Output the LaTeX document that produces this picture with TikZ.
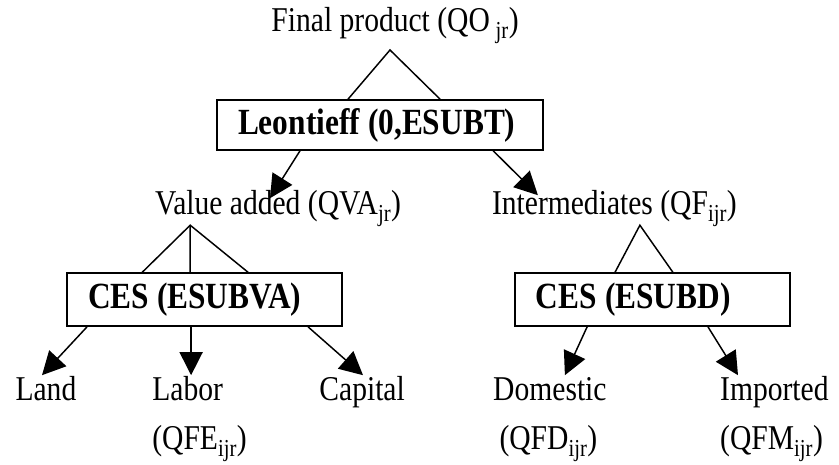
\documentclass[tikz,border=0pt]{standalone}
\usepackage{fontspec}
\setmainfont{Liberation Serif}[FakeStretch=0.85]
\usepackage{tikz}
\usetikzlibrary{arrows.meta,positioning}

\newcommand{\boxfont}{\fontsize{35}{40}\selectfont\bfseries}
\newcommand{\gap}{\hspace{0.22em}}

\begin{document}
\begin{tikzpicture}[
  x=1cm,
  y=1cm,
  box/.style={
    draw=black,
    align=left,
    inner xsep=0.7cm,
    inner ysep=0pt,
    line width=1.4pt,
    font=\boxfont
  },
  lbl/.style={font=\fontsize{33}{38}\selectfont, inner sep=0pt, anchor=base},
  nest/.style={line width=1.4pt},
  flow/.style={-{Triangle[length=22pt, width=22pt]}, line width=1.4pt}
]
\useasboundingbox (0,0) rectangle (27.967,15.467);

% nesting levels
\node[lbl] (final) at (13.17,14.41) {Final product (QO\,\textsubscript{jr})};
\node[box, text width=9.47cm, minimum height=1.67cm] (leon) at (12.67,11.30) {Leontieff\gap(0,ESUBT)};

\node[lbl] (vadd)  at (9.27,8.33)  {Value added (QVA\textsubscript{jr})};
\node[lbl] (inter) at (20.48,8.33) {Intermediates (QF\textsubscript{ijr})};

\node[box, text width=7.77cm, minimum height=1.77cm] (cesva) at (6.82,5.48)  {CES\gap(ESUBVA)};
\node[box, text width=7.77cm, minimum height=1.77cm] (cesd)  at (21.75,5.48) {CES\gap(ESUBD)};

% inputs
\node[lbl] (land)    at (1.53,2.13)  {Land};
\node[lbl, anchor=base west] (labor) at (5.07,2.13) {Labor};
\node[lbl, anchor=base west] (qfe)   at (5.07,0.50) {(QFE\textsubscript{ijr})};
\node[lbl] (capital) at (12.07,2.13) {Capital};
\node[lbl] (domestic) at (18.33,2.13) {Domestic};
\node[lbl] (qfd)      at (18.28,0.50) {(QFD\textsubscript{ijr})};
\node[lbl, anchor=base west] (imported) at (24.00,2.13) {Imported};
\node[lbl, anchor=base west] (qfm)      at (24.00,0.50) {(QFM\textsubscript{ijr})};

% nests
\draw[nest] ([xshift=-1.07cm]leon.north) -- ([shift={(-0.17,-0.61)}]final.base) -- ([xshift=2.00cm]leon.north);
\draw[nest] ([xshift=-2.08cm]cesva.north) -- ([shift={(-2.93,-0.37)}]vadd.base) -- ([xshift=1.45cm]cesva.north);
\draw[nest] ([shift={(-2.93,-0.37)}]vadd.base) -- ([xshift=-0.48cm]cesva.north);
\draw[nest] ([xshift=-1.25cm]cesd.north) -- ([shift={(0.85,-0.37)}]inter.base) -- ([xshift=0.68cm]cesd.north);

% flows
\draw[flow] ([xshift=-2.67cm]leon.south) -- ([shift={(-0.27,0.53)}]vadd.base);
\draw[flow] ([xshift=3.77cm]leon.south) -- ([shift={(-2.55,0.63)}]inter.base);

\draw[flow] ([xshift=-3.92cm]cesva.south) -- ([shift={(-0.13,0.83)}]land.base);
\draw[flow] ([xshift=-0.45cm]cesva.south) -- ([shift={(1.30,0.83)}]labor.base west);
\draw[flow] ([xshift=3.45cm]cesva.south) -- ([shift={(0.03,0.83)}]capital.base);

\draw[flow] ([xshift=-2.18cm]cesd.south) -- ([shift={(0.50,0.83)}]domestic.base);
\draw[flow] ([xshift=1.85cm]cesd.south) -- ([shift={(0.60,0.83)}]imported.base west);
\end{tikzpicture}
\end{document}
